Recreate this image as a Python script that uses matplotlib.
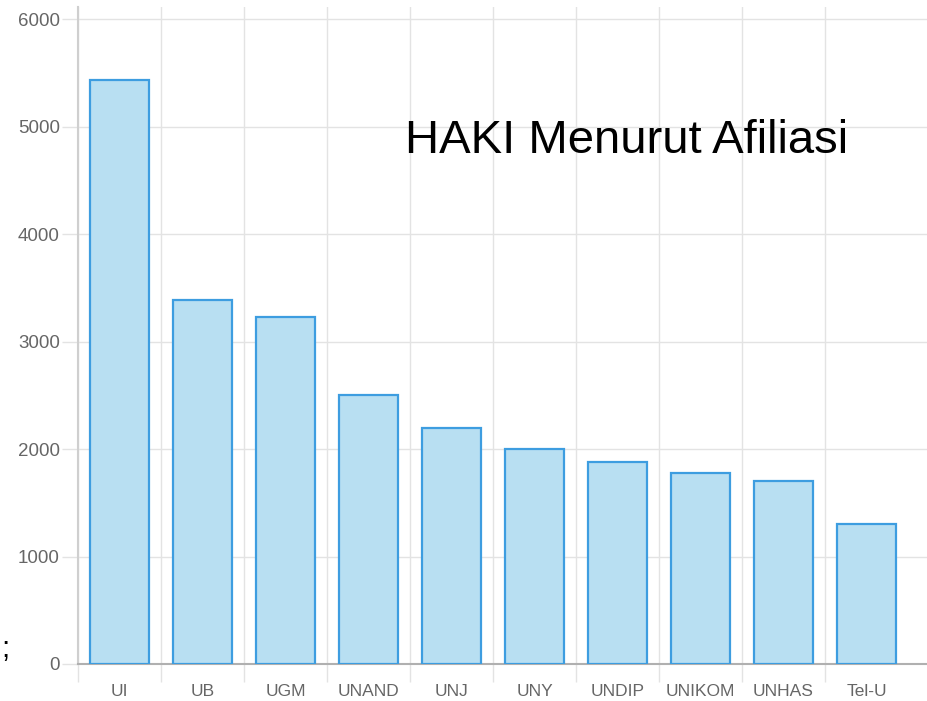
import numpy as np
import matplotlib
matplotlib.use('Agg')
import matplotlib.pyplot as plt
from matplotlib.ticker import FixedLocator
from matplotlib import font_manager

categories = ['UI', 'UB', 'UGM', 'UNAND', 'UNJ', 'UNY', 'UNDIP', 'UNIKOM', 'UNHAS', 'Tel-U']
values = [5430, 3390, 3225, 2500, 2200, 2000, 1875, 1780, 1705, 1300]
yticks = [0, 1000, 2000, 3000, 4000, 5000, 6000]
title = 'HAKI Menurut Afiliasi'

W, H = 927, 701
fig = plt.figure(figsize=(W / 100, H / 100), dpi=100)
ax = fig.add_axes([78 / W, 1 - 664 / H, (W - 78) / W, (664 - 7) / H])

grid_c = '#e3e3e3'

names = {f.name for f in font_manager.fontManager.ttflist}
if 'Liberation Sans Narrow' in names:
    tick_family = ['Liberation Sans Narrow', 'DejaVu Sans']
    ysize, xsize, xpad = 16, 14, 11.5
else:
    tick_family = ['Liberation Sans', 'DejaVu Sans']
    ysize, xsize, xpad = 13.5, 12.5, 14.5

x = np.arange(len(categories))
ax.bar(x, values, width=0.71, color='#b8dff2', edgecolor='#3d9de0',
       linewidth=1.6, zorder=3)

ax.set_xlim(-0.5, -0.5 + 849 / 83)
ax.set_ylim(0, 6000 + 12 / 645 * 6000)
ax.set_axisbelow(True)

# y axis
ax.yaxis.set_major_locator(FixedLocator(yticks))
ax.set_yticklabels([str(v) for v in yticks], family=tick_family, fontsize=ysize, color='#666666')
ax.tick_params(axis='y', which='major', length=11.5, width=1, color=grid_c, pad=1.5)
ax.grid(axis='y', which='major', color=grid_c, linewidth=1)

# x axis
ax.set_xticks(x)
ax.set_xticklabels(categories, family=tick_family, fontsize=xsize, color='#666666')
ax.tick_params(axis='x', which='major', length=0, pad=xpad)
ax.xaxis.set_minor_locator(FixedLocator(np.arange(-0.5, len(categories) - 1, 1.0)))
ax.tick_params(axis='x', which='minor', length=13, width=1, color=grid_c)
ax.grid(axis='x', which='minor', color=grid_c, linewidth=1)

for s in ['top', 'right']:
    ax.spines[s].set_visible(False)
ax.spines['left'].set_color('#cfcfcf')
ax.spines['left'].set_linewidth(1.5)
ax.spines['bottom'].set_color('#b0b0b0')
ax.spines['bottom'].set_linewidth(1.5)
ax.yaxis.get_major_ticks()[0].tick1line.set_color('#b0b0b0')

fig.text(405 / W, 1 - 153 / H, title, fontsize=34, family=['Liberation Sans', 'DejaVu Sans'],
         color='black', va='baseline', ha='left')
fig.text(1 / W, 1 - 657 / H, ';', fontsize=21, family=['Liberation Sans', 'DejaVu Sans'],
         color='black', va='baseline', ha='left')

fig.savefig('out.png', dpi=100)
